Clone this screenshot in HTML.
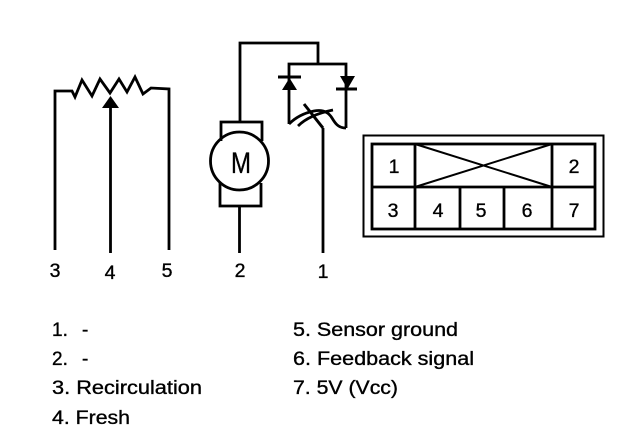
<!DOCTYPE html>
<html>
<head>
<meta charset="utf-8">
<style>
html,body{margin:0;padding:0;background:#fff;width:624px;height:444px;overflow:hidden}
svg{display:block}
text{font-family:"Liberation Sans",sans-serif;fill:#000;stroke:#000;stroke-width:.35px}
.l{font-size:19px}
.n{font-size:19.500px;text-anchor:middle}
</style>
</head>
<body>
<svg width="624" height="444" viewBox="0 0 624 444" xmlns="http://www.w3.org/2000/svg">
<g fill="none" stroke="#000" stroke-width="2.800">
<!-- potentiometer -->
<polyline points="55,250 55,91 72,91 75,97 82,80 92,96 100,79 110,93 119,79 127,92 135,77 143,94 151,88 169,89 169,250"/>
<line x1="110.500" y1="105" x2="110.500" y2="253"/>
<!-- motor -->
<polyline points="240,122 240,43 318,43 318,64"/>
<polyline points="221,141 221,122 262,122 262,141"/>
<polyline points="220,183 220,206 261,206 261,183"/>
<circle cx="239.500" cy="161" r="29"/>
<line x1="239.500" y1="206" x2="239.500" y2="253"/>
<!-- diodes -->
<polyline points="289,124 289,64 346,64 346,128"/>
<line x1="278" y1="77" x2="301" y2="77" stroke-width="3"/>
<line x1="336" y1="89" x2="357" y2="89" stroke-width="3"/>
<path d="M289,124 C296,117 304,113 314,111 C324,109 329,113 332,118 C335,123 338,128 346,128"/>
<path d="M298,126 C306,118 318,113 333,110"/>
<line x1="304" y1="104" x2="323" y2="128" stroke-width="3"/>
<line x1="323" y1="128" x2="323" y2="253"/>
<!-- connector -->
<rect x="363.500" y="135.500" width="240" height="101" stroke-width="2"/>
<rect x="372" y="144" width="223" height="85"/>
<line x1="372" y1="187" x2="595" y2="187"/>
<line x1="415" y1="144" x2="415" y2="229"/>
<line x1="460" y1="187" x2="460" y2="229" />
<line x1="504" y1="187" x2="504" y2="229"/>
<line x1="552" y1="144" x2="552" y2="229"/>
<line x1="415" y1="144" x2="552" y2="187" stroke-width="2"/>
<line x1="552" y1="144" x2="415" y2="187" stroke-width="2"/>
</g>
<g fill="#000" stroke="none">
<polygon points="110.500,96 102,108 119,108"/>
<polygon points="289.500,78 282,90 297,90"/>
<polygon points="340,76 355,76 347.500,89"/>
</g>
<text class="n" x="55" y="277">3</text>
<text class="n" x="110" y="279">4</text>
<text class="n" x="167" y="277">5</text>
<text class="n" x="240" y="277">2</text>
<text class="n" x="323" y="278">1</text>
<text class="n" x="394" y="173">1</text>
<text class="n" x="574" y="173">2</text>
<text class="n" x="393" y="217">3</text>
<text class="n" x="438" y="217">4</text>
<text class="n" x="481" y="217">5</text>
<text class="n" x="527" y="217">6</text>
<text class="n" x="574" y="217">7</text>
<text x="231" y="173" style="font-size:30px" textLength="20" lengthAdjust="spacingAndGlyphs">M</text>
<text class="l" x="52" y="336">1.</text>
<text class="l" x="82" y="336">-</text>
<text class="l" x="52" y="365">2.</text>
<text class="l" x="82" y="365">-</text>
<text class="l" x="52" y="394" textLength="150" lengthAdjust="spacingAndGlyphs">3. Recirculation</text>
<text class="l" x="52" y="424" textLength="78" lengthAdjust="spacingAndGlyphs">4. Fresh</text>
<text class="l" x="293" y="336" textLength="165" lengthAdjust="spacingAndGlyphs">5. Sensor ground</text>
<text class="l" x="293" y="365" textLength="181" lengthAdjust="spacingAndGlyphs">6. Feedback signal</text>
<text class="l" x="293" y="394" textLength="105" lengthAdjust="spacingAndGlyphs">7. 5V (Vcc)</text>
</svg>
</body>
</html>
